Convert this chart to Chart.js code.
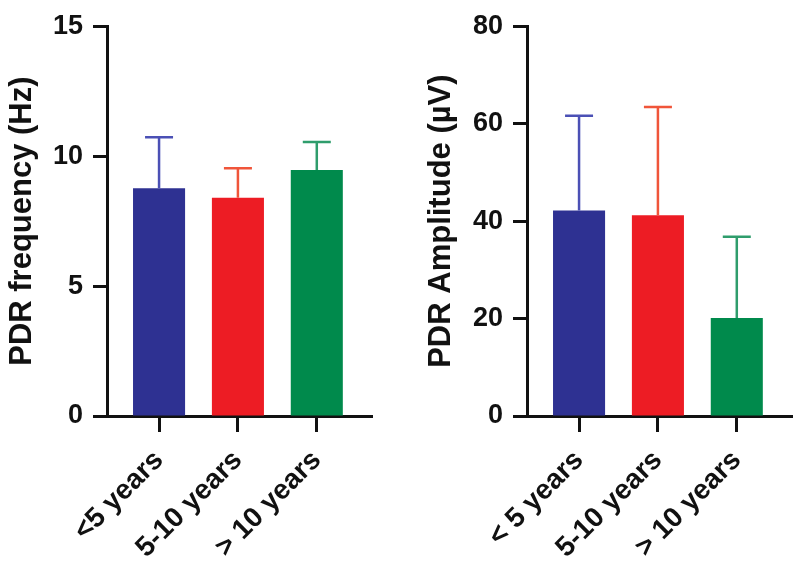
<!DOCTYPE html>
<html>
<head>
<meta charset="utf-8">
<script src="https://cdn.jsdelivr.net/npm/chart.js@4.4.0/dist/chart.umd.min.js"></script>
<style>
body { margin: 0; background: #fff; width: 800px; height: 570px; position: relative; overflow: hidden; }
.box { position: absolute; top: 0; width: 400px; height: 570px; }
</style>
</head>
<body>
<div class="box" style="left:0"><canvas id="freqChart"></canvas></div>
<div class="box" style="left:400px"><canvas id="ampChart"></canvas></div>
<script>
// values (mean + upper SD)
var freqLabels = ['<5 years', '5-10 years', '> 10 years'];
var freqMean = [8.76, 8.4, 9.47];
var freqSD = [1.97, 1.13, 1.07];

var ampLabels = ['< 5 years', '5-10 years', '> 10 years'];
var ampMean = [42.2, 41.2, 20.1];
var ampSD = [19.4, 22.2, 16.7];

var barColors = ['#2e3192', '#ed1c24', '#008a4c'];
var errColors = ['#4b50b5', '#f0553a', '#2f9d6c'];

var fontFam = "'Liberation Sans', Arial, sans-serif";

// draws the upper SD whisker above each bar
var errorBars = {
  id: 'errorBars',
  afterDatasetsDraw: function(chart) {
    var ctx = chart.ctx;
    var yScale = chart.scales.y;
    var ds = chart.data.datasets[0];
    var meta = chart.getDatasetMeta(0);
    ctx.save();
    ctx.lineWidth = 2.5;
    meta.data.forEach(function(bar, i) {
      var top = yScale.getPixelForValue(ds.data[i].y + ds.sd[i]);
      ctx.strokeStyle = errColors[i];
      ctx.beginPath();
      ctx.moveTo(bar.x, bar.y);
      ctx.lineTo(bar.x, top);
      ctx.moveTo(bar.x - 14, top);
      ctx.lineTo(bar.x + 14, top);
      ctx.stroke();
    });
    ctx.restore();
  }
};

function makeChart(id, labels, mean, sd, yMax, yStep, title, yWidth, titlePad, rightPad) {
  var data = mean.map(function(v, i) { return { x: i + 1, y: v }; });
  return new Chart(document.getElementById(id), {
    type: 'bar',
    data: {
      datasets: [{
        data: data,
        sd: sd,
        backgroundColor: barColors,
        borderWidth: 0,
        barPercentage: 0.66,
        categoryPercentage: 1
      }]
    },
    options: {
      animation: false,
      responsive: true,
      maintainAspectRatio: false,
      layout: { padding: { top: 22, right: rightPad, bottom: 0, left: 0 } },
      plugins: { legend: { display: false }, tooltip: { enabled: false } },
      scales: {
        x: {
          type: 'linear',
          min: 0.34,
          max: 3.7,
          offset: false,
          afterBuildTicks: function(s) {
            s.ticks = labels.map(function(l, i) { return { value: i + 1 }; });
          },
          afterFit: function(s) { s.height = 154; },
          ticks: {
            autoSkip: false,
            minRotation: 45,
            maxRotation: 45,
            padding: 12,
            color: '#111',
            font: { family: fontFam, size: 28, weight: 'bold' },
            callback: function(v) { return labels[v - 1]; }
          },
          grid: { offset: false, drawOnChartArea: false, tickLength: 16, tickWidth: 3, tickColor: '#111' },
          border: { color: '#111', width: 3 }
        },
        y: {
          min: 0,
          max: yMax,
          afterFit: function(s) { s.width = yWidth; },
          ticks: {
            stepSize: yStep,
            padding: 10,
            color: '#111',
            font: { family: fontFam, size: 27, weight: 'bold' }
          },
          grid: { drawOnChartArea: false, tickLength: 14, tickWidth: 3, tickColor: '#111' },
          border: { color: '#111', width: 3 },
          title: {
            display: true,
            text: title,
            color: '#111',
            padding: { top: titlePad, bottom: 0 },
            font: { family: fontFam, size: 31, weight: 'bold' }
          }
        }
      }
    },
    plugins: [errorBars]
  });
}

makeChart('freqChart', freqLabels, freqMean, freqSD, 15, 5, 'PDR frequency (Hz)', 107, 4, 28);
makeChart('ampChart', ampLabels, ampMean, ampSD, 80, 20, 'PDR Amplitude (\u00b5V)', 127, 23, 8);
</script>
</body>
</html>
